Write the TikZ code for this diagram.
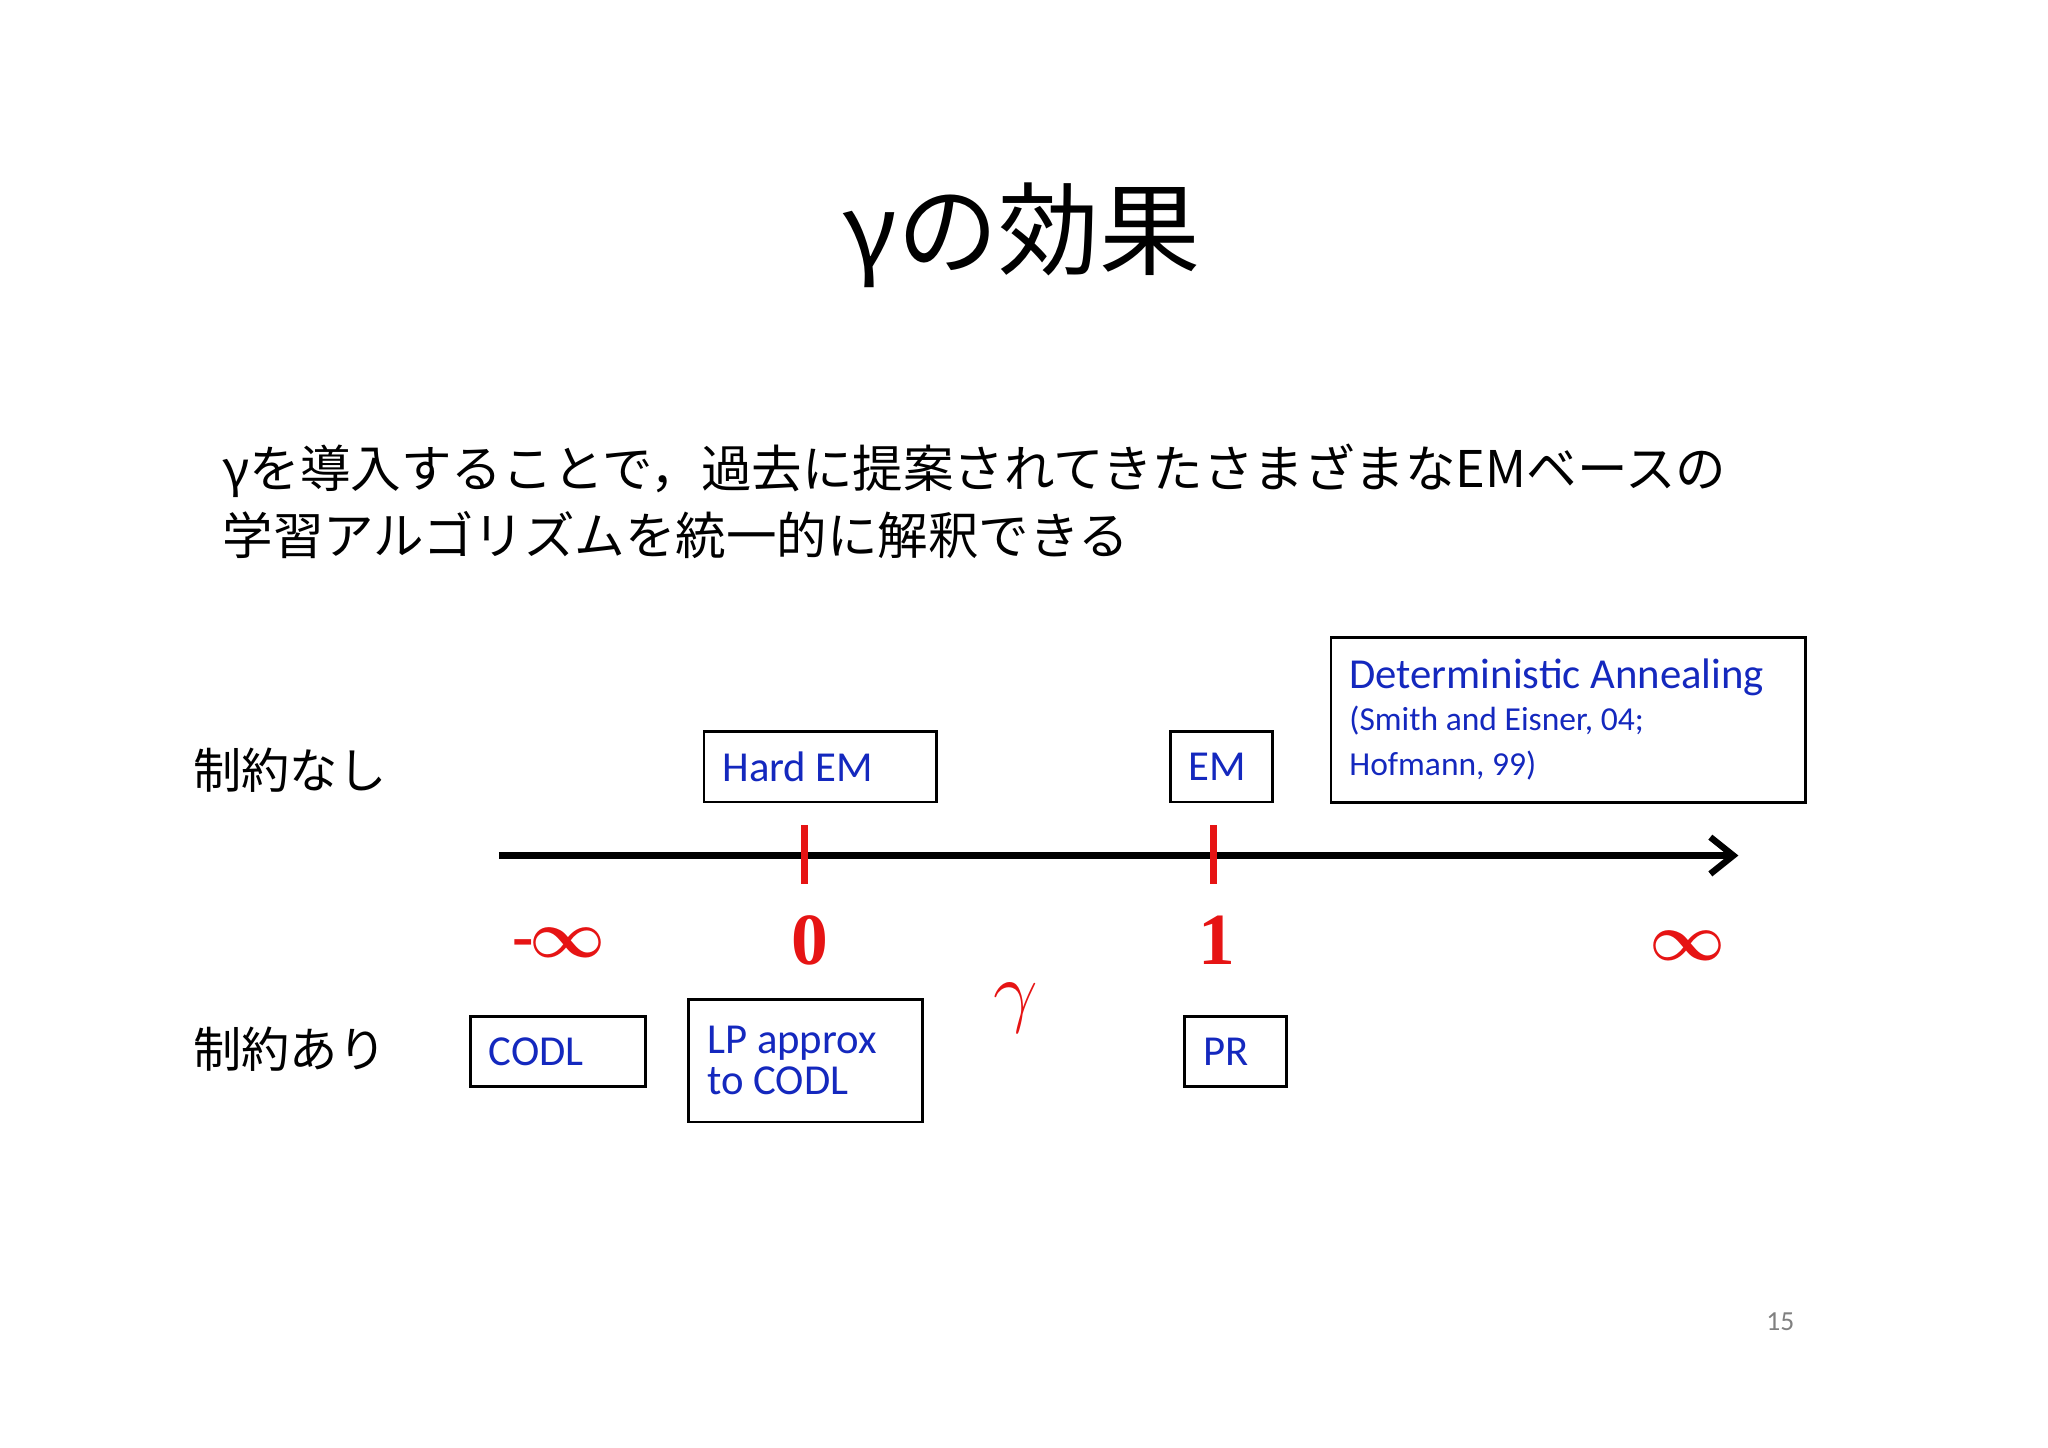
\documentclass[tikz,border=0pt]{standalone}
\usepackage{amsmath}
\usepackage{fontspec}
\setmainfont{Carlito}
\newfontfamily\cjk{Noto Sans CJK JP}
\newfontfamily\serif{Liberation Serif}
\usetikzlibrary{arrows.meta}
\definecolor{bl}{RGB}{20,40,190}
\definecolor{rd}{RGB}{230,20,20}
\tikzset{
  bx/.style={draw, line width=0.6pt, text=bl, font=\fontsize{9.3}{11}\selectfont, align=flush left, anchor=north west, inner xsep=4pt, inner ysep=0pt},
  rl/.style={text=rd, font=\serif\bfseries\fontsize{16}{18}\selectfont},
  jp/.style={font=\cjk\fontsize{11}{14.6}\selectfont}
}
\begin{document}
\begin{tikzpicture}[x=0.01cm,y=-0.01cm]
\useasboundingbox (0,0) rectangle (1568,1108);
\fill[white] (0,0) rectangle (1568,1108);
\node[font=\cjk\fontsize{22}{26}\selectfont] (title) at (782,180) {γの効果};
\node[jp, anchor=west, align=left] (body) at (158,384) {γを導入することで，過去に提案されてきたさまざまなEMベースの\\学習アルゴリズムを統一的に解釈できる};
\node[jp, font=\cjk\fontsize{10.5}{12}\selectfont] (l1) at (222,590) {制約なし};
\node[jp, font=\cjk\fontsize{10.5}{12}\selectfont] (l2) at (222,803) {制約あり};
% boxes
\node[bx, minimum width=1.78cm, minimum height=0.54cm, text width=1.5cm] (hem) at (538,559) {Hard EM};
\node[bx, minimum width=0.78cm, minimum height=0.54cm, text width=0.5cm] (em) at (895,559) {EM};
\node[bx, minimum width=3.58cm, minimum height=1.26cm, text width=3.35cm, inner ysep=4pt] (da) at (1018,487) {Deterministic Annealing\\[-2pt]{\fontsize{7.3}{9}\selectfont (Smith and Eisner, 04;}\\[-1pt]{\fontsize{7.3}{9}\selectfont Hofmann, 99)}};
\node[bx, minimum width=1.34cm, minimum height=0.54cm, text width=1.06cm] (codl) at (359,777) {CODL};
\node[bx, minimum width=1.79cm, minimum height=0.94cm, text width=1.5cm, font=\fontsize{9.3}{11}\selectfont] (lp) at (526,764) {LP approx\\[-2pt]to CODL};
\node[bx, minimum width=0.78cm, minimum height=0.54cm, text width=0.5cm] (pr) at (906,777) {PR};
% axis
\coordinate (a0) at (382,655);
\coordinate (a1) at (1331,655);
\draw[line width=1.4pt, -{Straight Barb[length=5pt,width=8pt]}] (a0) -- (a1);
\coordinate (t0a) at (616,632); \coordinate (t0b) at (616,677);
\coordinate (t1a) at (929,632); \coordinate (t1b) at (929,677);
\draw[rd, line width=1.6pt] (t0a) -- (t0b);
\draw[rd, line width=1.6pt] (t1a) -- (t1b);
\node[text=rd, font=\fontsize{14}{16}\selectfont] (minf) at (428,722) {\serif\bfseries -\kern-1pt$\boldsymbol{\infty}$};
\node[rl] (z) at (620,720) {0};
\node[rl] (o) at (932,720) {1};
\node[text=rd, font=\fontsize{14}{16}\selectfont] (inf) at (1292,724) {$\boldsymbol{\infty}$};
\node[text=rd, font=\fontsize{16}{18}\selectfont] (g) at (778,772) {$\gamma$};
\node[text=gray, font=\fontsize{6}{7}\selectfont] (pg) at (1363,1012) {15};
\end{tikzpicture}
\end{document}
